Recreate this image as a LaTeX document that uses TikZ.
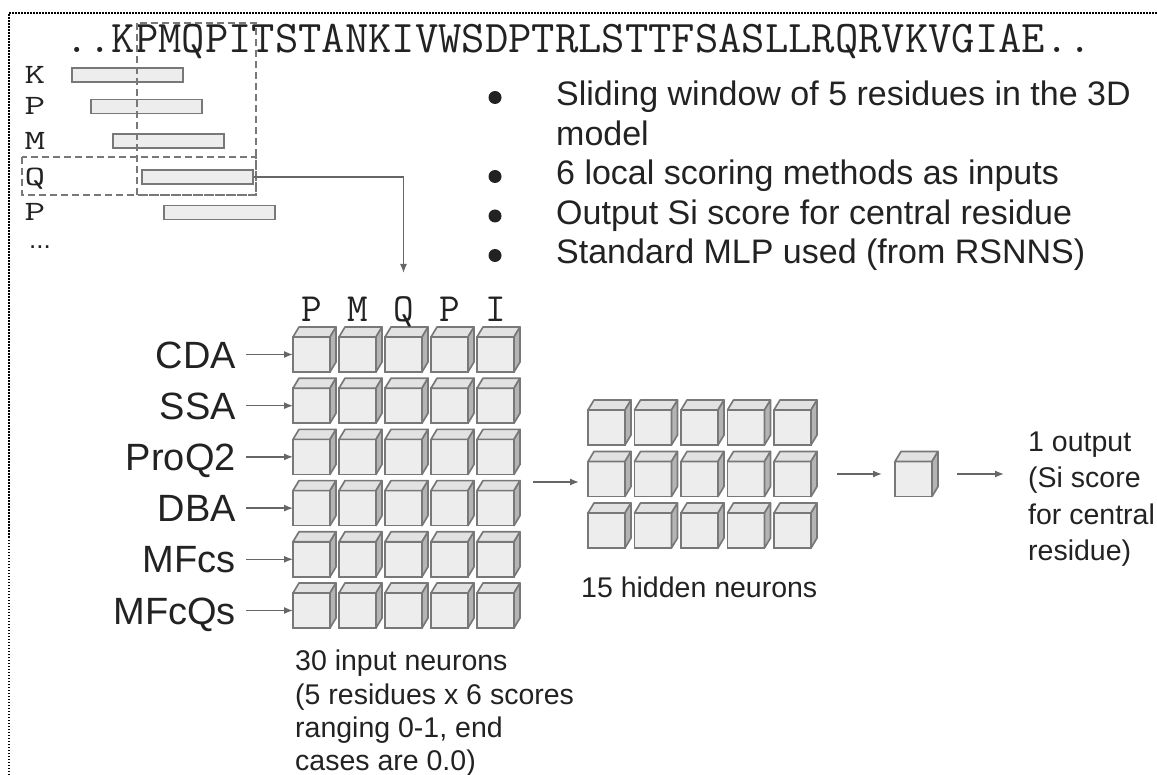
\documentclass[tikz,border=0pt]{standalone}
\usepackage{fontspec}
\setmainfont{Liberation Sans}
\usetikzlibrary{arrows.meta, calc}

\definecolor{edgegray}{HTML}{787878}
\definecolor{frontgray}{HTML}{EDEDED}
\definecolor{topgray}{HTML}{E2E2E2}
\definecolor{sidegray}{HTML}{B4B4B4}
\definecolor{arrowgray}{HTML}{666666}
\definecolor{inkgray}{HTML}{222222}

\begin{document}
\begin{tikzpicture}[x = 1pt, y = -1pt,
    neuron/.style = {draw=edgegray, fill=frontgray, line width=1.7pt,
                     minimum width=37pt, minimum height=35pt,
                     inner sep=0pt, outer sep=0pt, anchor=north west},
    face/.style   = {draw=edgegray, line width=1.7pt, line join=round},
    window/.style = {draw=edgegray, fill=frontgray, line width=1.6pt,
                     minimum width=111pt, minimum height=14pt,
                     inner sep=0pt, anchor=west},
    frame/.style  = {draw=edgegray, line width=1.3pt, dash pattern=on 7pt off 4pt},
    flow/.style   = {draw=arrowgray, line width=1.3pt, -{Latex[length=9pt,width=7pt]}},
    seq/.style    = {font=\fontsize{45.3}{46}\ttfamily, inner sep=0pt, text=inkgray},
    method/.style = {font=\fontsize{38}{40}\selectfont, inner sep=0pt, anchor=east,
                     text height=27.2pt, text depth=0pt, text=inkgray},
    bullet/.style = {font=\fontsize{34}{39.5}\selectfont, inner sep=0pt,
                     anchor=base west, text=inkgray},
    note/.style   = {font=\fontsize{28.5}{33.3}\selectfont, inner sep=0pt,
                     anchor=north west, align=left, text=inkgray}]

    \useasboundingbox (0,0) rectangle (1157,775);

    % one cube: front face is the node, top and side drawn from its anchors
    \def\neuron#1#2#3{%
        \node[neuron] (#1) at (#2,#3) {};
        \filldraw[face, fill=topgray] (#1.north west) -- ++(6,-10)
            -- ($(#1.north east)+(6,-10)$) -- (#1.north east) -- cycle;
        \filldraw[face, fill=sidegray] (#1.north east) -- ++(6,-10)
            -- ($(#1.south east)+(6,-10)$) -- (#1.south east) -- cycle;
    }

    \draw[line width=1.5pt, dash pattern=on 1.5pt off 1.5pt] (9,775) -- (9,13) -- (1157,13);

    % protein sequence and sliding window
    \node[seq, anchor=base west] (chain) at (65,53) {..KPMQPITSTANKIVWSDPTRLSTTFSASLLRQRVKVGIAE..};
    \foreach \res/\xx/\yy [count=\k] in {K/71/75, P/90/106.5, M/112/141, Q/141/177, P/163/212.5} {
        \node[font=\fontsize{40}{40}\ttfamily, inner sep=0pt, text height=17pt, text depth=0pt,
              text=inkgray] (res-\k) at (35,\yy) {\scalebox{1}[0.7]{\res}};
        \node[window] (bar-\k) at (\xx,\yy) {};
    }
    \node[font=\fontsize{26}{26}\selectfont, inner sep=0pt, text=inkgray] (res-more) at (40,247) {...};
    \draw[frame] (137,23) rectangle (256,195);
    \draw[frame] (22,157) rectangle (256,195);

    % bullet points
    \node[bullet] (pt-1) at (556,106) {Sliding window of 5 residues in the 3D};
    \node[bullet] (pt-1b) at (556,145.5) {model};
    \node[bullet] (pt-2) at (556,185) {6 local scoring methods as inputs};
    \node[bullet] (pt-3) at (556,224.5) {Output Si score for central residue};
    \node[bullet] (pt-4) at (556,264) {Standard MLP used (from RSNNS)};
    \foreach \yy in {106,185,224.5,264}
        \fill[inkgray] (495,\yy-8.5) circle (6.5pt);

    % input layer
    \foreach \r in {0,...,5} {
        \foreach \c in {0,...,4} {
            \neuron{in-\r-\c}{293+46*\c}{337+51.2*\r}
        }
    }
    \foreach \res [count=\c from 0] in {P,M,Q,P,I}
        \node[seq, font=\fontsize{40}{40}\ttfamily, anchor=base] (col-\c) at (311.5+46*\c,322) {\res};
    \foreach \name [count=\r from 0] in {CDA,SSA,ProQ2,DBA,MFcs,MFcQs} {
        \node[method] (m-\r) at (236,354.5+51.2*\r) {\name};
        \draw[flow] ([xshift=10pt]m-\r.east) -- (in-\r-0.west);
    }
    \coordinate (drop) at ($(col-2.base)+(0,-49)$);
    \draw[flow] (bar-4.east) -| (drop);

    % hidden layer
    \foreach \r in {0,1,2} {
        \foreach \c in {0,...,4} {
            \neuron{hid-\r-\c}{588+46.5*\c}{410+51.5*\r}
        }
    }
    \coordinate (merge) at (533,482);
    \draw[flow, shorten >=9pt] (merge) -- (merge -| hid-1-0.west);

    % output
    \neuron{out}{895}{461.5}
    \draw[flow, shorten <=26pt, shorten >=13pt] ([yshift=5pt]hid-1-4.east) -- ([yshift=5pt]out.west);
    \node[note, font=\fontsize{28.5}{36.5}\selectfont] (result) at (1028,431.5)
        {1 output\\(Si score\\for central\\residue)};
    \draw[flow, shorten <=25pt, shorten >=24pt] ([yshift=5pt]out.east) -- ([yshift=5pt]out.east -| result.west);

    % captions
    \node[note, anchor=base west] (hidlbl) at (581,597) {15 hidden neurons};
    \node[note] (inlbl) at (295,650)
        {30 input neurons\\(5 residues x 6 scores\\ranging 0-1, end\\cases are 0.0)};
\end{tikzpicture}
\end{document}
